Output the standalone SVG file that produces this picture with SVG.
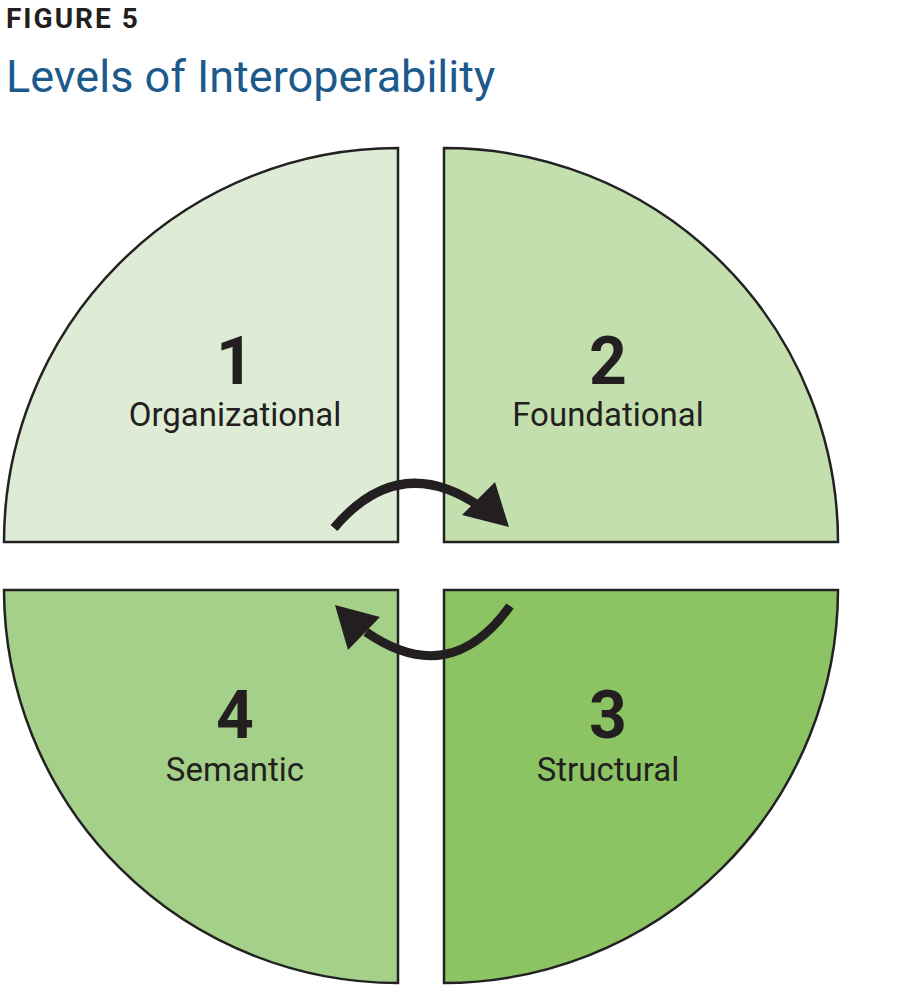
<svg xmlns="http://www.w3.org/2000/svg" width="900" height="1000" viewBox="0 0 900 1000">
<style>
.q{stroke:#222;stroke-width:2.5}
.n{font-family:Roboto,"Liberation Sans",sans-serif;font-weight:bold;font-size:66px;fill:#231f20;text-anchor:middle}
.l{font-family:Roboto,"Liberation Sans",sans-serif;font-size:33px;fill:#231f20;text-anchor:middle}
</style>
<rect width="900" height="1000" fill="#fff"/>
<text x="6" y="28" font-family="Roboto,'Liberation Sans',sans-serif" font-weight="bold" font-size="28" letter-spacing="2" fill="#231f20">FIGURE 5</text>
<text x="6" y="92" font-family="Roboto,'Liberation Sans',sans-serif" font-size="45" fill="#1d5a8c">Levels of Interoperability</text>
<g id="q1"><path class="q" fill="#dfecd5" d="M398,542 L398,148 A394,394 0 0 0 4,542 Z"/><text class="n" x="235" y="384">1</text><text class="l" x="235" y="426">Organizational</text></g>
<g id="q2"><path class="q" fill="#c3dfae" d="M444,542 L444,148 A394,394 0 0 1 838,542 Z"/><text class="n" x="608" y="384">2</text><text class="l" x="608" y="426">Foundational</text></g>
<g id="q3"><path class="q" fill="#8cc464" d="M444,590 L444,983 A394,394 0 0 0 838,590 Z"/><text class="n" x="608" y="738">3</text><text class="l" x="608" y="781">Structural</text></g>
<g id="q4"><path class="q" fill="#a5d08a" d="M398,590 L398,983 A394,394 0 0 1 4,590 Z"/><text class="n" x="235" y="738">4</text><text class="l" x="235" y="781">Semantic</text></g>
<g id="connectors" fill="#231f20">
<path d="M334,528 Q400,450 482,508" fill="none" stroke="#231f20" stroke-width="9"/>
<polygon points="509,527 495,482 462,515"/>
<path d="M510,606 Q450,690 366,632" fill="none" stroke="#231f20" stroke-width="9"/>
<polygon points="335,605 380,617 348,650"/>
</g>
</svg>
